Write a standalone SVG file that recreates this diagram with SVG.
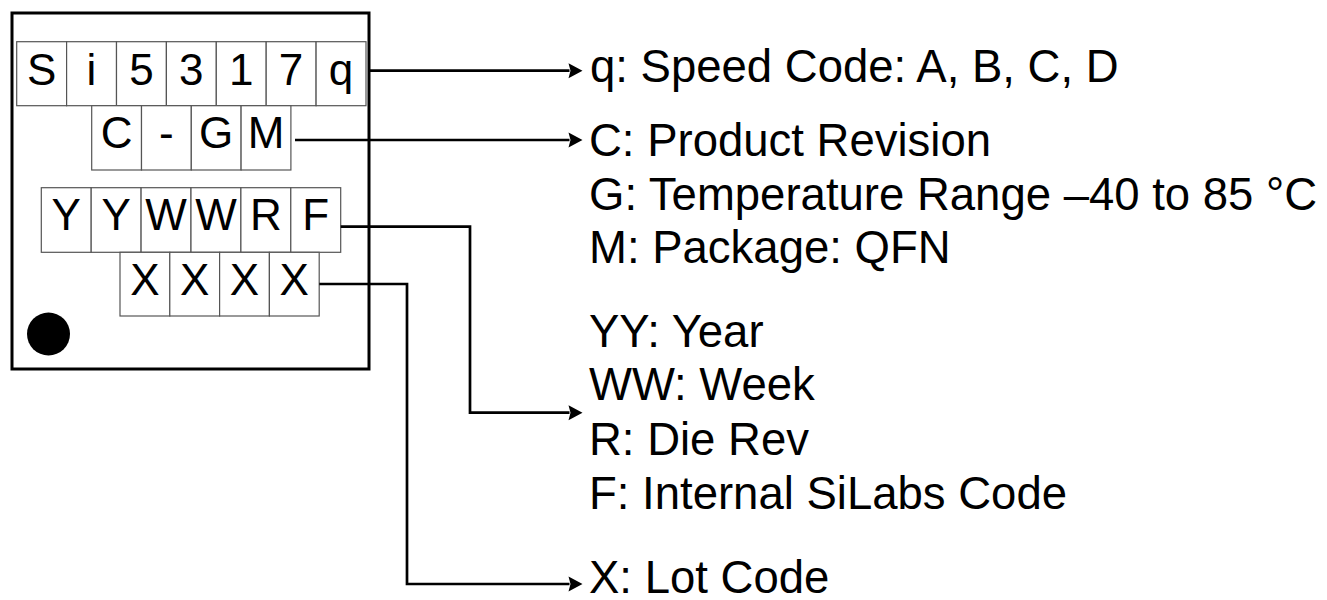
<svg xmlns="http://www.w3.org/2000/svg" width="1327" height="600" viewBox="0 0 1327 600">
<style>
.cell{fill:#fff;stroke:#555;stroke-width:1.2}
.ct{font-family:"Liberation Sans",Arial,sans-serif;font-size:44px;fill:#000;text-anchor:middle}
.lbl{font-family:"Liberation Sans",Arial,sans-serif;font-size:45.5px;fill:#000}
.conn{fill:none;stroke:#000;stroke-width:2.7}
</style>
<defs>
<marker id="arr" markerUnits="userSpaceOnUse" markerWidth="16" markerHeight="16" refX="1" refY="7.5" orient="auto" overflow="visible">
<path d="M0,0 L14,7.5 L0,15 L2,7.5 Z" fill="#000"/>
</marker>
</defs>
<rect x="0" y="0" width="1327" height="600" fill="#fff"/>
<g id="chip">
<rect x="12" y="13" width="357" height="356" fill="#fff" stroke="#000" stroke-width="3"/>
<circle cx="48.5" cy="334" r="21.5" fill="#000"/>
</g>
<g id="row1">
<rect class="cell" x="16.7" y="41.7" width="49.9" height="64"/>
<rect class="cell" x="66.6" y="41.7" width="49.9" height="64"/>
<rect class="cell" x="116.5" y="41.7" width="49.9" height="64"/>
<rect class="cell" x="166.4" y="41.7" width="49.9" height="64"/>
<rect class="cell" x="216.3" y="41.7" width="49.9" height="64"/>
<rect class="cell" x="266.2" y="41.7" width="49.9" height="64"/>
<rect class="cell" x="316.1" y="41.7" width="49.9" height="64"/>
<text class="ct" x="41.6" y="85">S</text>
<text class="ct" x="91.5" y="85">i</text>
<text class="ct" x="141.4" y="85">5</text>
<text class="ct" x="191.3" y="85">3</text>
<text class="ct" x="241.2" y="85">1</text>
<text class="ct" x="291.1" y="85">7</text>
<text class="ct" x="341" y="85">q</text>
</g>
<g id="row2">
<rect class="cell" x="91.7" y="105.7" width="49.8" height="64.3"/>
<rect class="cell" x="141.5" y="105.7" width="49.8" height="64.3"/>
<rect class="cell" x="191.3" y="105.7" width="49.8" height="64.3"/>
<rect class="cell" x="241.1" y="105.7" width="49.8" height="64.3"/>
<text class="ct" x="116.6" y="148">C</text>
<text class="ct" x="166.4" y="148">-</text>
<text class="ct" x="216.2" y="148">G</text>
<text class="ct" x="266" y="148">M</text>
</g>
<g id="row3">
<rect class="cell" x="41.3" y="187.7" width="49.9" height="64.6"/>
<rect class="cell" x="91.2" y="187.7" width="49.9" height="64.6"/>
<rect class="cell" x="141.1" y="187.7" width="49.9" height="64.6"/>
<rect class="cell" x="191" y="187.7" width="49.9" height="64.6"/>
<rect class="cell" x="240.9" y="187.7" width="49.9" height="64.6"/>
<rect class="cell" x="290.8" y="187.7" width="49.9" height="64.6"/>
<text class="ct" x="66.2" y="230">Y</text>
<text class="ct" x="116.1" y="230">Y</text>
<text class="ct" x="166" y="230">W</text>
<text class="ct" x="215.9" y="230">W</text>
<text class="ct" x="265.8" y="230">R</text>
<text class="ct" x="315.7" y="230">F</text>
</g>
<g id="row4">
<rect class="cell" x="120" y="252.3" width="49.8" height="63.7"/>
<rect class="cell" x="169.8" y="252.3" width="49.8" height="63.7"/>
<rect class="cell" x="219.6" y="252.3" width="49.8" height="63.7"/>
<rect class="cell" x="269.4" y="252.3" width="49.8" height="63.7"/>
<text class="ct" x="144.9" y="295">X</text>
<text class="ct" x="194.7" y="295">X</text>
<text class="ct" x="244.5" y="295">X</text>
<text class="ct" x="294.3" y="295">X</text>
</g>
<g id="connectors">
<path class="conn" d="M370,70.7 H569.5" marker-end="url(#arr)"/>
<path class="conn" d="M295,140 H569.5" marker-end="url(#arr)"/>
<path class="conn" d="M340.7,226.7 H470 V412.7 H569.5" marker-end="url(#arr)"/>
<path class="conn" d="M319.3,284 H407 V584 H569.5" marker-end="url(#arr)"/>
</g>
<g id="labels">
<text class="lbl" x="590" y="81.7">q: Speed Code: A, B, C, D</text>
<text class="lbl" x="589" y="156">C: Product Revision</text>
<text class="lbl" x="589" y="209.5">G: Temperature Range –40 to 85 °C</text>
<text class="lbl" x="589" y="263">M: Package: QFN</text>
<text class="lbl" x="589" y="346.7">YY: Year</text>
<text class="lbl" x="589" y="400">WW: Week</text>
<text class="lbl" x="589" y="455">R: Die Rev</text>
<text class="lbl" x="589" y="509">F: Internal SiLabs Code</text>
<text class="lbl" x="589" y="593">X: Lot Code</text>
</g>
</svg>
